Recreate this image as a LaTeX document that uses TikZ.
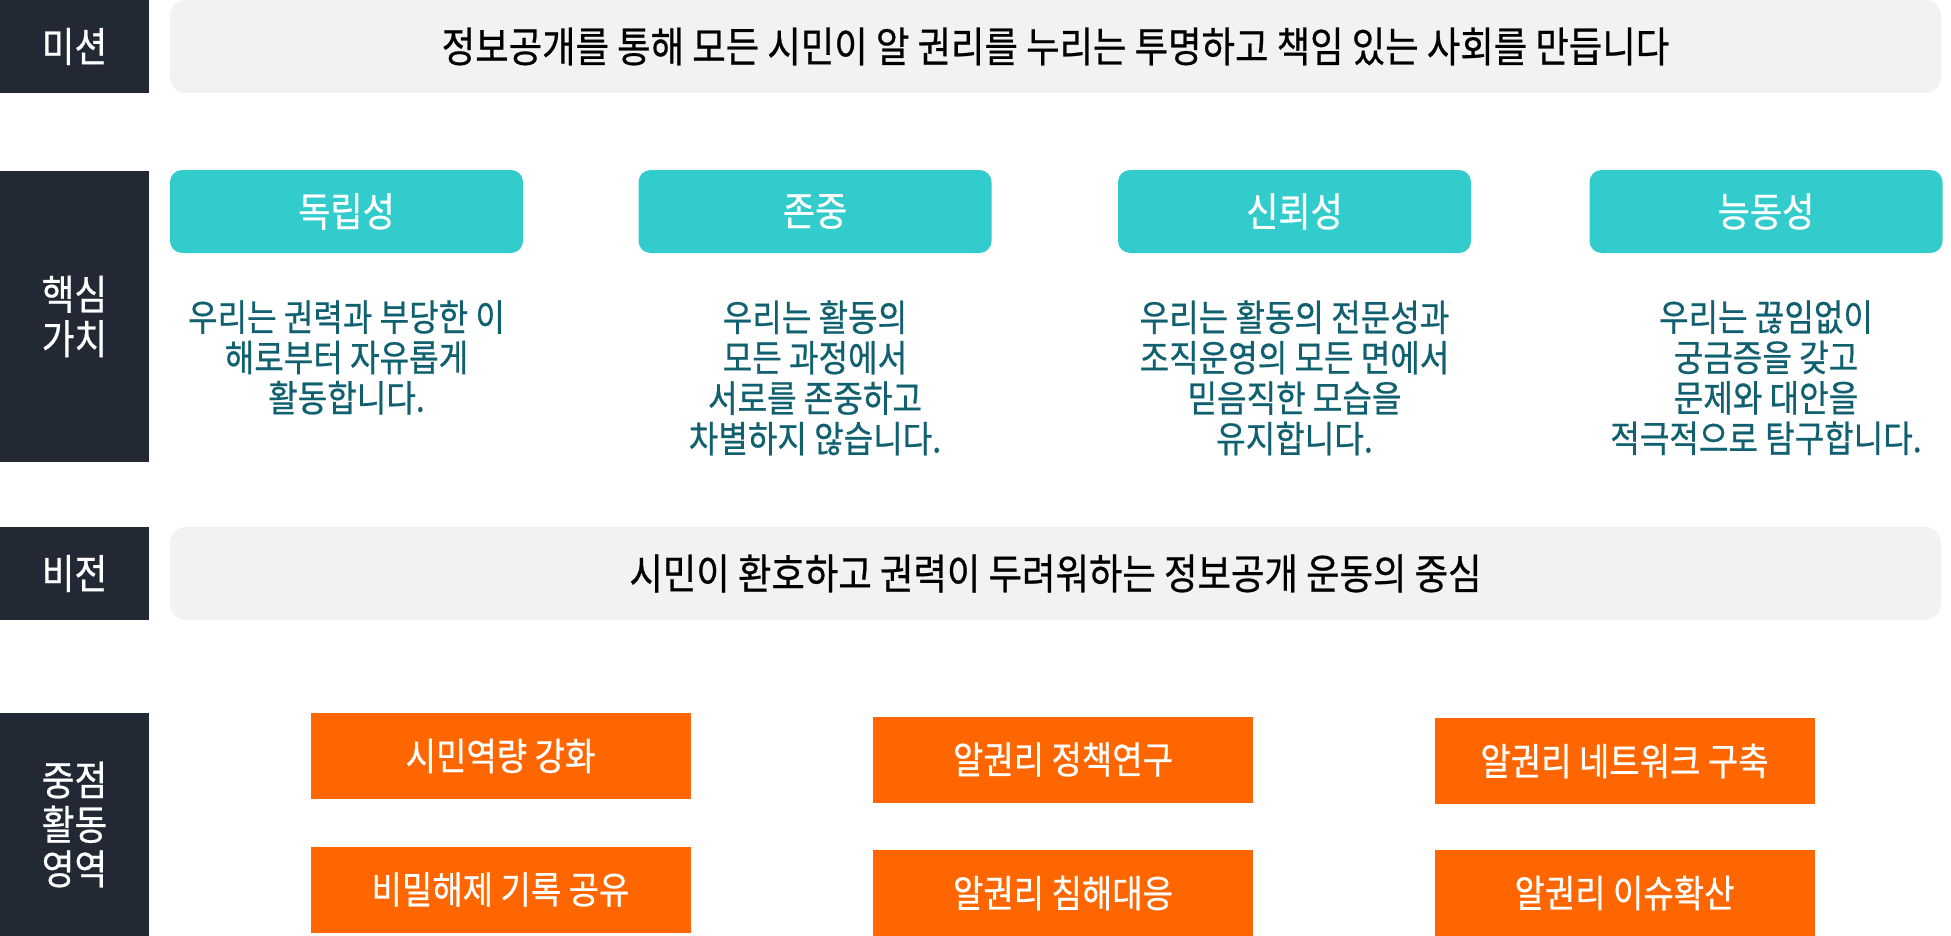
\documentclass[tikz,border=0pt]{standalone}
\usepackage{fontspec}
\setmainfont[FakeStretch=0.87, FakeBold=0.6]{Noto Sans CJK KR}
\usetikzlibrary{positioning}
\definecolor{slate}{RGB}{35,41,52}
\definecolor{mist}{RGB}{242,242,242}
\definecolor{aqua}{RGB}{51,204,204}
\definecolor{inkteal}{RGB}{16,96,112}
\definecolor{flame}{RGB}{255,102,0}
\newcommand{\pxu}{0.02cm}

\begin{document}
\begin{tikzpicture}[x=\pxu, y=-\pxu, inner sep=0pt,
	tagbox/.style={fill=slate, text=white, align=center, minimum width=149*\pxu, font=\fontsize{23.3}{25.3}\selectfont},
	bandbox/.style={fill=mist, rounded corners=16*\pxu, minimum width=1771*\pxu, minimum height=93*\pxu, font=\fontsize{23.8}{26}\selectfont},
	corebox/.style={fill=aqua, text=white, rounded corners=12*\pxu, minimum width=353*\pxu, minimum height=83*\pxu, font=\fontsize{22.9}{26}\selectfont},
	creedtext/.style={text=inkteal, align=center, anchor=north, font=\fontsize{21}{23}\selectfont},
	focusbox/.style={fill=flame, text=white, minimum width=380*\pxu, minimum height=86*\pxu, font=\fontsize{21.6}{24}\selectfont}]
	\useasboundingbox (0,0) rectangle (1951,936);
	
	\node[tagbox, minimum height=93*\pxu]	(mission) at (74.5,46.5)	{미션};
	\node[bandbox]	(missionband) at (1055.5,46.5)	{정보공개를 통해 모든 시민이 알 권리를 누리는 투명하고 책임 있는 사회를 만듭니다};
	
	\node[tagbox, minimum height=291*\pxu]	(values) at (74.5,316.5)	{핵심\\가치};
	\foreach \i/\cx/\name/\creed in {0/346.5/독립성/{우리는 권력과 부당한 이\\해로부터 자유롭게\\활동합니다.},
		1/815/존중/{우리는 활동의\\모든 과정에서\\서로를 존중하고\\차별하지 않습니다.},
		2/1294.5/신뢰성/{우리는 활동의 전문성과\\조직운영의 모든 면에서\\믿음직한 모습을\\유지합니다.},
		3/1766/능동성/{우리는 끊임없이\\궁금증을 갖고\\문제와 대안을\\적극적으로 탐구합니다.}}{
		\node[corebox]	(core\i) at (\cx,211.5)	{\name};
		\node[creedtext]	(creed\i) at (\cx,300)	{\creed};
	}
	
	\node[tagbox, minimum height=93*\pxu]	(vision) at (74.5,573.5)	{비전};
	\node[bandbox]	(visionband) at (1055.5,573.5)	{시민이 환호하고 권력이 두려워하는 정보공개 운동의 중심};
	
	\node[tagbox, minimum height=223*\pxu]	(focus) at (74.5,824.5)	{중점\\활동\\영역};
	\node[focusbox]	(civic) at (500.5,756)	{시민역량 강화};
	\node[focusbox]	(declass) at (500.5,889.5)	{비밀해제 기록 공유};
	\node[focusbox]	(policy) at (1063,759.5)	{알권리 정책연구};
	\node[focusbox]	(redress) at (1063,893)	{알권리 침해대응};
	\node[focusbox]	(network) at (1624.5,761)	{알권리 네트워크 구축};
	\node[focusbox]	(issue) at (1624.5,893)	{알권리 이슈확산};
\end{tikzpicture}
\end{document}
